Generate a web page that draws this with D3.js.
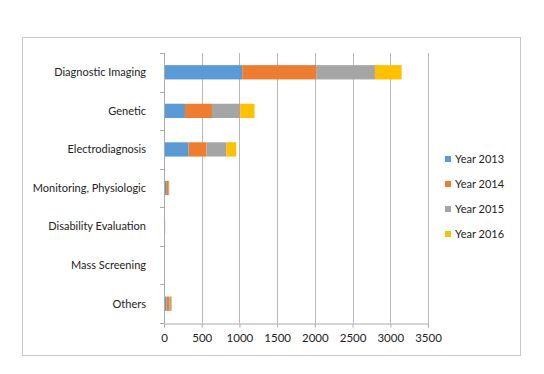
<!DOCTYPE html>
<html>
<head>
<meta charset="utf-8">
<script src="https://cdn.jsdelivr.net/npm/d3@7"></script>
<style>
	body { margin: 0; background: #fff; }
	text { font-family: Lato, "Open Sans", sans-serif; fill: #222; }
</style>
</head>
<body>
<div id="chart"></div>
<script>
var categories = ["Diagnostic Imaging", "Genetic", "Electrodiagnosis", "Monitoring, Physiologic",
	"Disability Evaluation", "Mass Screening", "Others"];
var years = ["Year 2013", "Year 2014", "Year 2015", "Year 2016"];
var y2013 = [1037, 278, 326, 28, 5, 3, 32];
var y2014 = [980, 358, 238, 25, 5, 5, 40];
var y2015 = [780, 374, 265, 12, 5, 3, 25];
var y2016 = [353, 190, 128, 5, 1, 1, 8];
var xTicks = [0, 500, 1000, 1500, 2000, 2500, 3000, 3500];
var colors = ["#5b9bd5", "#ed7d31", "#a5a5a5", "#ffc000"];

var W = 544, H = 374;
var svg = d3.select("#chart").append("svg")
	.attr("width", W)
	.attr("height", H);

// outer frame
svg.append("rect")
	.attr("x", 22.5).attr("y", 37.5)
	.attr("width", 498).attr("height", 318)
	.attr("fill", "#fff")
	.attr("stroke", "#c8c8c8");

var plotL = 164, plotR = 428, plotT = 53, plotB = 323;

var x = d3.scaleLinear().domain([0, 3500]).range([plotL, plotR]);
var y = d3.scaleBand().domain(categories).range([plotT, plotB]).paddingInner(0.63).paddingOuter(0.315);

// gridlines
svg.append("g").selectAll("line")
	.data(xTicks.slice(1))
	.enter().append("line")
	.attr("x1", function (d) { return Math.round(x(d)) + 0.5; })
	.attr("x2", function (d) { return Math.round(x(d)) + 0.5; })
	.attr("y1", plotT).attr("y2", plotB)
	.attr("stroke", "#b8b8b8");

// stacked data
var rows = categories.map(function (c, i) {
	return { cat: c, "Year 2013": y2013[i], "Year 2014": y2014[i], "Year 2015": y2015[i], "Year 2016": y2016[i] };
});
var series = d3.stack().keys(years)(rows);

svg.append("g").selectAll("g")
	.data(series)
	.enter().append("g")
	.attr("fill", function (d, i) { return colors[i]; })
	.selectAll("rect")
	.data(function (d) { return d; })
	.enter().append("rect")
	.attr("x", function (d) { return x(d[0]); })
	.attr("width", function (d) { return x(d[1]) - x(d[0]); })
	.attr("y", function (d) { return y(d.data.cat); })
	.attr("height", y.bandwidth());

// x axis
var xAxis = svg.append("g")
	.attr("transform", "translate(0," + (plotB + 0.5) + ")")
	.call(d3.axisBottom(x).tickValues(xTicks).tickFormat(d3.format("d"))
		.tickSizeOuter(0).tickSize(4).tickPadding(6));
xAxis.select(".domain").attr("stroke", "#aaa");
xAxis.selectAll(".tick line").attr("stroke", "#aaa");
xAxis.selectAll("text").attr("font-size", "11.5px").attr("fill", "#222")
	.style("font-family", "Lato, sans-serif");

// y axis line and band ticks
svg.append("line")
	.attr("x1", plotL + 0.5).attr("x2", plotL + 0.5)
	.attr("y1", plotT).attr("y2", plotB)
	.attr("stroke", "#aaa");
svg.append("g").selectAll("line")
	.data(d3.range(categories.length + 1))
	.enter().append("line")
	.attr("x1", plotL - 4).attr("x2", plotL)
	.attr("y1", function (d) { return Math.round(plotT + d * (plotB - plotT) / categories.length) + 0.5; })
	.attr("y2", function (d) { return Math.round(plotT + d * (plotB - plotT) / categories.length) + 0.5; })
	.attr("stroke", "#aaa");

svg.append("g").selectAll("text")
	.data(categories)
	.enter().append("text")
	.attr("x", plotL - 18)
	.attr("y", function (d) { return y(d) + y.bandwidth() / 2; })
	.attr("dy", "0.35em")
	.attr("text-anchor", "end")
	.attr("font-size", "11px")
	.text(function (d) { return d; });

// legend
var legend = svg.append("g").selectAll("g")
	.data(years)
	.enter().append("g")
	.attr("transform", function (d, i) { return "translate(445," + (159 + i * 25) + ")"; });
legend.append("rect")
	.attr("x", 0).attr("y", -3)
	.attr("width", 6).attr("height", 6)
	.attr("fill", function (d, i) { return colors[i]; });
legend.append("text")
	.attr("x", 10).attr("dy", "0.35em")
	.attr("font-size", "11px")
	.text(function (d) { return d; });
</script>
</body>
</html>
